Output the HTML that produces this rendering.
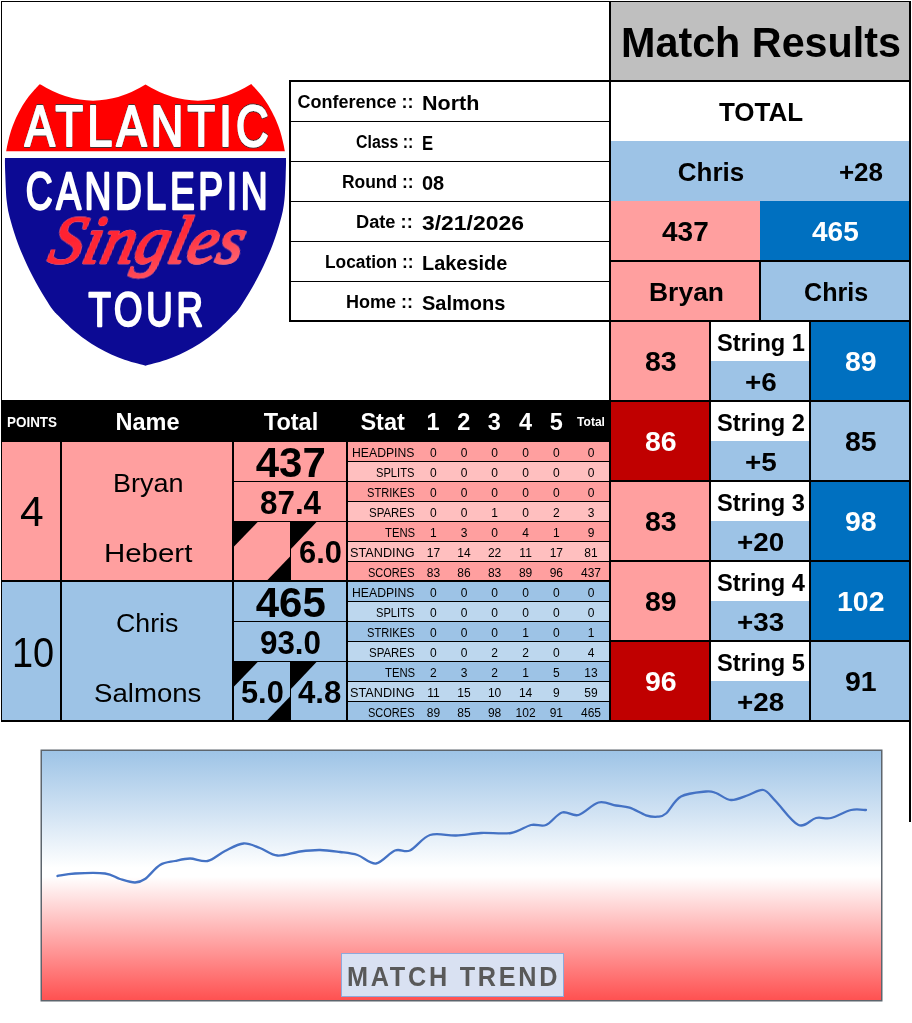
<!DOCTYPE html>
<html lang="en"><head><meta charset="utf-8"><title>Match Results</title>
<style>
html,body{margin:0;padding:0;background:#fff}
body{width:912px;height:1023px;position:relative;overflow:hidden;font-family:"Liberation Sans",sans-serif}
.b{position:absolute;display:block}
.t{position:absolute;display:block;white-space:nowrap;line-height:1;transform-origin:0 0;margin:0;padding:0}
</style></head><body>
<div class="b" style="left:1px;top:1px;width:910px;height:1px;background:#000"></div><div class="b" style="left:1px;top:1px;width:1px;height:721px;background:#000"></div><div class="b" style="left:909px;top:1px;width:2px;height:821px;background:#000"></div><div class="b" style="left:611px;top:2px;width:298px;height:78px;background:#bfbfbf"></div><div class="b" style="left:611px;top:82px;width:298px;height:59px;background:#fff"></div><div class="b" style="left:611px;top:141px;width:298px;height:60px;background:#9dc3e6"></div><div class="b" style="left:611px;top:201px;width:149px;height:60px;background:#ff9f9f"></div><div class="b" style="left:760px;top:201px;width:149px;height:60px;background:#0070c0"></div><div class="b" style="left:611px;top:261px;width:149px;height:60px;background:#ff9f9f"></div><div class="b" style="left:760px;top:261px;width:149px;height:60px;background:#9dc3e6"></div><div class="b" style="left:611px;top:321px;width:99px;height:80px;background:#ff9f9f"></div><div class="b" style="left:711px;top:321px;width:99px;height:40px;background:#fff"></div><div class="b" style="left:711px;top:361px;width:99px;height:40px;background:#9dc3e6"></div><div class="b" style="left:811px;top:321px;width:98px;height:80px;background:#0070c0"></div><div class="b" style="left:611px;top:401px;width:99px;height:80px;background:#c00000"></div><div class="b" style="left:711px;top:401px;width:99px;height:40px;background:#fff"></div><div class="b" style="left:711px;top:441px;width:99px;height:40px;background:#9dc3e6"></div><div class="b" style="left:811px;top:401px;width:98px;height:80px;background:#9dc3e6"></div><div class="b" style="left:611px;top:481px;width:99px;height:80px;background:#ff9f9f"></div><div class="b" style="left:711px;top:481px;width:99px;height:40px;background:#fff"></div><div class="b" style="left:711px;top:521px;width:99px;height:40px;background:#9dc3e6"></div><div class="b" style="left:811px;top:481px;width:98px;height:80px;background:#0070c0"></div><div class="b" style="left:611px;top:561px;width:99px;height:80px;background:#ff9f9f"></div><div class="b" style="left:711px;top:561px;width:99px;height:40px;background:#fff"></div><div class="b" style="left:711px;top:601px;width:99px;height:40px;background:#9dc3e6"></div><div class="b" style="left:811px;top:561px;width:98px;height:80px;background:#0070c0"></div><div class="b" style="left:611px;top:641px;width:99px;height:80px;background:#c00000"></div><div class="b" style="left:711px;top:641px;width:99px;height:40px;background:#fff"></div><div class="b" style="left:711px;top:681px;width:99px;height:40px;background:#9dc3e6"></div><div class="b" style="left:811px;top:641px;width:98px;height:80px;background:#9dc3e6"></div><div class="b" style="left:609px;top:1px;width:2px;height:721px;background:#000"></div><div class="b" style="left:609px;top:80px;width:302px;height:2px;background:#000"></div><div class="b" style="left:609px;top:260px;width:302px;height:2px;background:#000"></div><div class="b" style="left:609px;top:320px;width:302px;height:2px;background:#000"></div><div class="b" style="left:759px;top:261px;width:2px;height:60px;background:#000"></div><div class="b" style="left:609px;top:400px;width:302px;height:2px;background:#000"></div><div class="b" style="left:609px;top:480px;width:302px;height:2px;background:#000"></div><div class="b" style="left:609px;top:560px;width:302px;height:2px;background:#000"></div><div class="b" style="left:609px;top:640px;width:302px;height:2px;background:#000"></div><div class="b" style="left:609px;top:720px;width:302px;height:2px;background:#000"></div><div class="b" style="left:709px;top:321px;width:2px;height:401px;background:#000"></div><div class="b" style="left:809px;top:321px;width:2px;height:401px;background:#000"></div><div class="b" style="left:289px;top:80px;width:322px;height:2px;background:#000"></div><div class="b" style="left:289px;top:320px;width:322px;height:2px;background:#000"></div><div class="b" style="left:289px;top:80px;width:2px;height:242px;background:#000"></div><div class="b" style="left:289px;top:121px;width:321px;height:1px;background:#000"></div><div class="b" style="left:289px;top:161px;width:321px;height:1px;background:#000"></div><div class="b" style="left:289px;top:201px;width:321px;height:1px;background:#000"></div><div class="b" style="left:289px;top:241px;width:321px;height:1px;background:#000"></div><div class="b" style="left:289px;top:281px;width:321px;height:1px;background:#000"></div><div class="b" style="left:2px;top:400px;width:609px;height:42px;background:#000"></div><div class="b" style="left:2px;top:442px;width:346px;height:139px;background:#ff9f9f"></div><div class="b" style="left:2px;top:581px;width:346px;height:140px;background:#9dc3e6"></div><div class="b" style="left:348px;top:442px;width:261px;height:20px;background:#ff9f9f"></div><div class="b" style="left:348px;top:462px;width:261px;height:20px;background:#ffbfbf"></div><div class="b" style="left:348px;top:482px;width:261px;height:20px;background:#ff9f9f"></div><div class="b" style="left:348px;top:502px;width:261px;height:20px;background:#ffbfbf"></div><div class="b" style="left:348px;top:522px;width:261px;height:20px;background:#ff9f9f"></div><div class="b" style="left:348px;top:542px;width:261px;height:20px;background:#ffbfbf"></div><div class="b" style="left:348px;top:562px;width:261px;height:20px;background:#ff9f9f"></div><div class="b" style="left:348px;top:582px;width:261px;height:20px;background:#9dc3e6"></div><div class="b" style="left:348px;top:602px;width:261px;height:20px;background:#bdd7ee"></div><div class="b" style="left:348px;top:622px;width:261px;height:20px;background:#9dc3e6"></div><div class="b" style="left:348px;top:642px;width:261px;height:20px;background:#bdd7ee"></div><div class="b" style="left:348px;top:662px;width:261px;height:20px;background:#9dc3e6"></div><div class="b" style="left:348px;top:682px;width:261px;height:20px;background:#bdd7ee"></div><div class="b" style="left:348px;top:702px;width:261px;height:20px;background:#9dc3e6"></div><div class="b" style="left:60px;top:442px;width:2px;height:280px;background:#000"></div><div class="b" style="left:232px;top:442px;width:2px;height:280px;background:#000"></div><div class="b" style="left:346px;top:442px;width:2px;height:280px;background:#000"></div><div class="b" style="left:1px;top:580px;width:610px;height:2px;background:#000"></div><div class="b" style="left:1px;top:720px;width:910px;height:2px;background:#000"></div><div class="b" style="left:348px;top:461px;width:261px;height:1px;background:#000"></div><div class="b" style="left:348px;top:481px;width:261px;height:1px;background:#000"></div><div class="b" style="left:348px;top:501px;width:261px;height:1px;background:#000"></div><div class="b" style="left:348px;top:521px;width:261px;height:1px;background:#000"></div><div class="b" style="left:348px;top:541px;width:261px;height:1px;background:#000"></div><div class="b" style="left:348px;top:561px;width:261px;height:1px;background:#000"></div><div class="b" style="left:234px;top:481px;width:114px;height:1px;background:#000"></div><div class="b" style="left:234px;top:521px;width:114px;height:1px;background:#000"></div><div class="b" style="left:290px;top:522px;width:1px;height:59px;background:#000"></div><div class="b" style="left:348px;top:601px;width:261px;height:1px;background:#000"></div><div class="b" style="left:348px;top:621px;width:261px;height:1px;background:#000"></div><div class="b" style="left:348px;top:641px;width:261px;height:1px;background:#000"></div><div class="b" style="left:348px;top:661px;width:261px;height:1px;background:#000"></div><div class="b" style="left:348px;top:681px;width:261px;height:1px;background:#000"></div><div class="b" style="left:348px;top:701px;width:261px;height:1px;background:#000"></div><div class="b" style="left:234px;top:621px;width:114px;height:1px;background:#000"></div><div class="b" style="left:234px;top:661px;width:114px;height:1px;background:#000"></div><div class="b" style="left:290px;top:662px;width:1px;height:59px;background:#000"></div><svg class="b" style="left:0;top:0" width="912" height="1023" viewBox="0 0 912 1023"><g fill="#000"><polygon points="234,521.5 258.2,521.5 234,546.5"/><polygon points="290,521.5 317,521.5 290,550"/><polygon points="266.5,581 291,581 291,555.5"/><polygon points="234,661.5 258.2,661.5 234,686.5"/><polygon points="290,661.5 317,661.5 290,690"/><polygon points="266.5,721 291,721 291,695.5"/></g></svg><span class="t " style="left:621.00px;top:20.60px;font-size:43px;color:#000;font-weight:700;transform:scaleX(0.9606);">Match Results</span><span class="t " style="left:718.88px;top:99.39px;font-size:26px;color:#000;font-weight:700;">TOTAL</span><span class="t " style="left:677.77px;top:158.59px;font-size:26px;color:#000;font-weight:700;">Chris</span><span class="t " style="left:838.95px;top:158.59px;font-size:26px;color:#000;font-weight:700;">+28</span><span class="t " style="left:662.00px;top:217.91px;font-size:27.4px;color:#000;font-weight:700;transform:scaleX(1.0218);">437</span><span class="t " style="left:812.30px;top:217.91px;font-size:27.4px;color:#fff;font-weight:700;transform:scaleX(1.0218);">465</span><span class="t " style="left:648.50px;top:278.99px;font-size:26px;color:#000;font-weight:700;transform:scaleX(1.0179);">Bryan</span><span class="t " style="left:804.00px;top:278.99px;font-size:26px;color:#000;font-weight:700;transform:scaleX(0.9661);">Chris</span><span class="t " style="left:644.86px;top:348.01px;font-size:27.4px;color:#000;font-weight:700;transform:scaleX(1.0400);">83</span><span class="t " style="left:844.86px;top:348.01px;font-size:27.4px;color:#fff;font-weight:700;transform:scaleX(1.0400);">89</span><span class="t " style="left:716.79px;top:330.68px;font-size:24px;color:#000;font-weight:700;transform:scaleX(0.9850);">String 1</span><span class="t " style="left:744.84px;top:368.79px;font-size:26px;color:#000;font-weight:700;transform:scaleX(1.0700);">+6</span><span class="t " style="left:644.86px;top:428.01px;font-size:27.4px;color:#fff;font-weight:700;transform:scaleX(1.0400);">86</span><span class="t " style="left:844.86px;top:428.01px;font-size:27.4px;color:#000;font-weight:700;transform:scaleX(1.0400);">85</span><span class="t " style="left:716.79px;top:410.68px;font-size:24px;color:#000;font-weight:700;transform:scaleX(0.9850);">String 2</span><span class="t " style="left:744.84px;top:448.79px;font-size:26px;color:#000;font-weight:700;transform:scaleX(1.0700);">+5</span><span class="t " style="left:644.86px;top:508.01px;font-size:27.4px;color:#000;font-weight:700;transform:scaleX(1.0400);">83</span><span class="t " style="left:844.86px;top:508.01px;font-size:27.4px;color:#fff;font-weight:700;transform:scaleX(1.0400);">98</span><span class="t " style="left:716.79px;top:490.68px;font-size:24px;color:#000;font-weight:700;transform:scaleX(0.9850);">String 3</span><span class="t " style="left:737.11px;top:528.79px;font-size:26px;color:#000;font-weight:700;transform:scaleX(1.0700);">+20</span><span class="t " style="left:644.86px;top:588.01px;font-size:27.4px;color:#000;font-weight:700;transform:scaleX(1.0400);">89</span><span class="t " style="left:836.93px;top:588.01px;font-size:27.4px;color:#fff;font-weight:700;transform:scaleX(1.0400);">102</span><span class="t " style="left:716.79px;top:570.68px;font-size:24px;color:#000;font-weight:700;transform:scaleX(0.9850);">String 4</span><span class="t " style="left:737.11px;top:608.79px;font-size:26px;color:#000;font-weight:700;transform:scaleX(1.0700);">+33</span><span class="t " style="left:644.86px;top:668.01px;font-size:27.4px;color:#fff;font-weight:700;transform:scaleX(1.0400);">96</span><span class="t " style="left:844.86px;top:668.01px;font-size:27.4px;color:#000;font-weight:700;transform:scaleX(1.0400);">91</span><span class="t " style="left:716.79px;top:650.68px;font-size:24px;color:#000;font-weight:700;transform:scaleX(0.9850);">String 5</span><span class="t " style="left:737.11px;top:688.79px;font-size:26px;color:#000;font-weight:700;transform:scaleX(1.0700);">+28</span><span class="t " style="left:297.50px;top:92.76px;font-size:18px;color:#000;font-weight:700;">Conference ::</span><span class="t " style="left:422.20px;top:92.65px;font-size:20.5px;color:#000;font-weight:700;transform:scaleX(1.0484);">North</span><span class="t " style="left:355.70px;top:132.76px;font-size:18px;color:#000;font-weight:700;transform:scaleX(0.8829);">Class ::</span><span class="t " style="left:422.20px;top:132.65px;font-size:20.5px;color:#000;font-weight:700;transform:scaleX(0.8118);">E</span><span class="t " style="left:341.50px;top:172.76px;font-size:18px;color:#000;font-weight:700;transform:scaleX(0.9681);">Round ::</span><span class="t " style="left:422.20px;top:172.65px;font-size:20.5px;color:#000;font-weight:700;transform:scaleX(0.9739);">08</span><span class="t " style="left:356.40px;top:212.76px;font-size:18px;color:#000;font-weight:700;transform:scaleX(1.0125);">Date ::</span><span class="t " style="left:422.20px;top:212.65px;font-size:20.5px;color:#000;font-weight:700;transform:scaleX(1.1184);">3/21/2026</span><span class="t " style="left:324.70px;top:252.76px;font-size:18px;color:#000;font-weight:700;transform:scaleX(0.9611);">Location ::</span><span class="t " style="left:422.20px;top:252.65px;font-size:20.5px;color:#000;font-weight:700;transform:scaleX(0.9711);">Lakeside</span><span class="t " style="left:346.00px;top:292.76px;font-size:18px;color:#000;font-weight:700;">Home ::</span><span class="t " style="left:422.20px;top:292.65px;font-size:20.5px;color:#000;font-weight:700;transform:scaleX(0.9761);">Salmons</span><span class="t " style="left:6.68px;top:415.45px;font-size:14px;color:#fff;font-weight:700;transform:scaleX(0.9600);">POINTS</span><span class="t " style="left:115.49px;top:410.71px;font-size:23.5px;color:#fff;font-weight:700;">Name</span><span class="t " style="left:263.81px;top:410.71px;font-size:23.5px;color:#fff;font-weight:700;">Total</span><span class="t " style="left:360.40px;top:410.71px;font-size:23.5px;color:#fff;font-weight:700;">Stat</span><span class="t " style="left:426.47px;top:410.71px;font-size:23.5px;color:#fff;font-weight:700;">1</span><span class="t " style="left:457.17px;top:410.71px;font-size:23.5px;color:#fff;font-weight:700;">2</span><span class="t " style="left:487.87px;top:410.71px;font-size:23.5px;color:#fff;font-weight:700;">3</span><span class="t " style="left:519.07px;top:410.71px;font-size:23.5px;color:#fff;font-weight:700;">4</span><span class="t " style="left:549.77px;top:410.71px;font-size:23.5px;color:#fff;font-weight:700;">5</span><span class="t " style="left:577.12px;top:416.14px;font-size:12px;color:#fff;font-weight:700;">Total</span><span class="t " style="left:19.98px;top:491.42px;font-size:42.5px;color:#000;">4</span><span class="t " style="left:12.40px;top:632.25px;font-size:42px;color:#000;transform:scaleX(0.9036);">10</span><span class="t " style="left:112.70px;top:469.69px;font-size:26px;color:#000;transform:scaleX(1.0381);">Bryan</span><span class="t " style="left:103.80px;top:539.59px;font-size:26px;color:#000;transform:scaleX(1.1317);">Hebert</span><span class="t " style="left:115.70px;top:609.59px;font-size:26px;color:#000;transform:scaleX(1.0283);">Chris</span><span class="t " style="left:94.10px;top:679.59px;font-size:26px;color:#000;transform:scaleX(1.0616);">Salmons</span><span class="t " style="left:255.70px;top:441.75px;font-size:42px;color:#000;font-weight:700;">437</span><span class="t " style="left:255.70px;top:581.75px;font-size:42px;color:#000;font-weight:700;">465</span><span class="t " style="left:259.80px;top:486.70px;font-size:32.6px;color:#000;font-weight:700;transform:scaleX(0.9631);">87.4</span><span class="t " style="left:260.00px;top:626.70px;font-size:32.6px;color:#000;font-weight:700;transform:scaleX(0.9615);">93.0</span><span class="t " style="left:298.50px;top:537.02px;font-size:31.4px;color:#000;font-weight:700;transform:scaleX(0.9829);">6.0</span><span class="t " style="left:241.40px;top:677.02px;font-size:31.4px;color:#000;font-weight:700;transform:scaleX(0.9806);">5.0</span><span class="t " style="left:297.50px;top:677.02px;font-size:31.4px;color:#000;font-weight:700;transform:scaleX(0.9921);">4.8</span><span class="t " style="left:352.20px;top:446.64px;font-size:12px;color:#000;transform:scaleX(1.0188);">HEADPINS</span><span class="t " style="left:430.06px;top:446.64px;font-size:12px;color:#000;">0</span><span class="t " style="left:460.66px;top:446.64px;font-size:12px;color:#000;">0</span><span class="t " style="left:491.26px;top:446.64px;font-size:12px;color:#000;">0</span><span class="t " style="left:522.26px;top:446.64px;font-size:12px;color:#000;">0</span><span class="t " style="left:552.96px;top:446.64px;font-size:12px;color:#000;">0</span><span class="t " style="left:587.66px;top:446.64px;font-size:12px;color:#000;">0</span><span class="t " style="left:376.30px;top:466.64px;font-size:12px;color:#000;transform:scaleX(0.9286);">SPLITS</span><span class="t " style="left:430.06px;top:466.64px;font-size:12px;color:#000;">0</span><span class="t " style="left:460.66px;top:466.64px;font-size:12px;color:#000;">0</span><span class="t " style="left:491.26px;top:466.64px;font-size:12px;color:#000;">0</span><span class="t " style="left:522.26px;top:466.64px;font-size:12px;color:#000;">0</span><span class="t " style="left:552.96px;top:466.64px;font-size:12px;color:#000;">0</span><span class="t " style="left:587.66px;top:466.64px;font-size:12px;color:#000;">0</span><span class="t " style="left:367.10px;top:486.64px;font-size:12px;color:#000;transform:scaleX(0.9270);">STRIKES</span><span class="t " style="left:430.06px;top:486.64px;font-size:12px;color:#000;">0</span><span class="t " style="left:460.66px;top:486.64px;font-size:12px;color:#000;">0</span><span class="t " style="left:491.26px;top:486.64px;font-size:12px;color:#000;">0</span><span class="t " style="left:522.26px;top:486.64px;font-size:12px;color:#000;">0</span><span class="t " style="left:552.96px;top:486.64px;font-size:12px;color:#000;">0</span><span class="t " style="left:587.66px;top:486.64px;font-size:12px;color:#000;">0</span><span class="t " style="left:369.10px;top:506.64px;font-size:12px;color:#000;transform:scaleX(0.9541);">SPARES</span><span class="t " style="left:430.06px;top:506.64px;font-size:12px;color:#000;">0</span><span class="t " style="left:460.66px;top:506.64px;font-size:12px;color:#000;">0</span><span class="t " style="left:491.26px;top:506.64px;font-size:12px;color:#000;">1</span><span class="t " style="left:522.26px;top:506.64px;font-size:12px;color:#000;">0</span><span class="t " style="left:552.96px;top:506.64px;font-size:12px;color:#000;">2</span><span class="t " style="left:587.66px;top:506.64px;font-size:12px;color:#000;">3</span><span class="t " style="left:384.60px;top:526.64px;font-size:12px;color:#000;transform:scaleX(0.9405);">TENS</span><span class="t " style="left:430.06px;top:526.64px;font-size:12px;color:#000;">1</span><span class="t " style="left:460.66px;top:526.64px;font-size:12px;color:#000;">3</span><span class="t " style="left:491.26px;top:526.64px;font-size:12px;color:#000;">0</span><span class="t " style="left:522.26px;top:526.64px;font-size:12px;color:#000;">4</span><span class="t " style="left:552.96px;top:526.64px;font-size:12px;color:#000;">1</span><span class="t " style="left:587.66px;top:526.64px;font-size:12px;color:#000;">9</span><span class="t " style="left:350.00px;top:546.64px;font-size:12px;color:#000;transform:scaleX(1.0586);">STANDING</span><span class="t " style="left:426.73px;top:546.64px;font-size:12px;color:#000;">17</span><span class="t " style="left:457.33px;top:546.64px;font-size:12px;color:#000;">14</span><span class="t " style="left:487.93px;top:546.64px;font-size:12px;color:#000;">22</span><span class="t " style="left:519.37px;top:546.64px;font-size:12px;color:#000;">11</span><span class="t " style="left:549.63px;top:546.64px;font-size:12px;color:#000;">17</span><span class="t " style="left:584.33px;top:546.64px;font-size:12px;color:#000;">81</span><span class="t " style="left:368.20px;top:566.64px;font-size:12px;color:#000;transform:scaleX(0.9176);">SCORES</span><span class="t " style="left:426.73px;top:566.64px;font-size:12px;color:#000;">83</span><span class="t " style="left:457.33px;top:566.64px;font-size:12px;color:#000;">86</span><span class="t " style="left:487.93px;top:566.64px;font-size:12px;color:#000;">83</span><span class="t " style="left:518.93px;top:566.64px;font-size:12px;color:#000;">89</span><span class="t " style="left:549.63px;top:566.64px;font-size:12px;color:#000;">96</span><span class="t " style="left:580.99px;top:566.64px;font-size:12px;color:#000;">437</span><span class="t " style="left:352.20px;top:586.64px;font-size:12px;color:#000;transform:scaleX(1.0188);">HEADPINS</span><span class="t " style="left:430.06px;top:586.64px;font-size:12px;color:#000;">0</span><span class="t " style="left:460.66px;top:586.64px;font-size:12px;color:#000;">0</span><span class="t " style="left:491.26px;top:586.64px;font-size:12px;color:#000;">0</span><span class="t " style="left:522.26px;top:586.64px;font-size:12px;color:#000;">0</span><span class="t " style="left:552.96px;top:586.64px;font-size:12px;color:#000;">0</span><span class="t " style="left:587.66px;top:586.64px;font-size:12px;color:#000;">0</span><span class="t " style="left:376.30px;top:606.64px;font-size:12px;color:#000;transform:scaleX(0.9286);">SPLITS</span><span class="t " style="left:430.06px;top:606.64px;font-size:12px;color:#000;">0</span><span class="t " style="left:460.66px;top:606.64px;font-size:12px;color:#000;">0</span><span class="t " style="left:491.26px;top:606.64px;font-size:12px;color:#000;">0</span><span class="t " style="left:522.26px;top:606.64px;font-size:12px;color:#000;">0</span><span class="t " style="left:552.96px;top:606.64px;font-size:12px;color:#000;">0</span><span class="t " style="left:587.66px;top:606.64px;font-size:12px;color:#000;">0</span><span class="t " style="left:367.10px;top:626.64px;font-size:12px;color:#000;transform:scaleX(0.9270);">STRIKES</span><span class="t " style="left:430.06px;top:626.64px;font-size:12px;color:#000;">0</span><span class="t " style="left:460.66px;top:626.64px;font-size:12px;color:#000;">0</span><span class="t " style="left:491.26px;top:626.64px;font-size:12px;color:#000;">0</span><span class="t " style="left:522.26px;top:626.64px;font-size:12px;color:#000;">1</span><span class="t " style="left:552.96px;top:626.64px;font-size:12px;color:#000;">0</span><span class="t " style="left:587.66px;top:626.64px;font-size:12px;color:#000;">1</span><span class="t " style="left:369.10px;top:646.64px;font-size:12px;color:#000;transform:scaleX(0.9541);">SPARES</span><span class="t " style="left:430.06px;top:646.64px;font-size:12px;color:#000;">0</span><span class="t " style="left:460.66px;top:646.64px;font-size:12px;color:#000;">0</span><span class="t " style="left:491.26px;top:646.64px;font-size:12px;color:#000;">2</span><span class="t " style="left:522.26px;top:646.64px;font-size:12px;color:#000;">2</span><span class="t " style="left:552.96px;top:646.64px;font-size:12px;color:#000;">0</span><span class="t " style="left:587.66px;top:646.64px;font-size:12px;color:#000;">4</span><span class="t " style="left:384.60px;top:666.64px;font-size:12px;color:#000;transform:scaleX(0.9405);">TENS</span><span class="t " style="left:430.06px;top:666.64px;font-size:12px;color:#000;">2</span><span class="t " style="left:460.66px;top:666.64px;font-size:12px;color:#000;">3</span><span class="t " style="left:491.26px;top:666.64px;font-size:12px;color:#000;">2</span><span class="t " style="left:522.26px;top:666.64px;font-size:12px;color:#000;">1</span><span class="t " style="left:552.96px;top:666.64px;font-size:12px;color:#000;">5</span><span class="t " style="left:584.33px;top:666.64px;font-size:12px;color:#000;">13</span><span class="t " style="left:350.00px;top:686.64px;font-size:12px;color:#000;transform:scaleX(1.0586);">STANDING</span><span class="t " style="left:427.17px;top:686.64px;font-size:12px;color:#000;">11</span><span class="t " style="left:457.33px;top:686.64px;font-size:12px;color:#000;">15</span><span class="t " style="left:487.93px;top:686.64px;font-size:12px;color:#000;">10</span><span class="t " style="left:518.93px;top:686.64px;font-size:12px;color:#000;">14</span><span class="t " style="left:552.96px;top:686.64px;font-size:12px;color:#000;">9</span><span class="t " style="left:584.33px;top:686.64px;font-size:12px;color:#000;">59</span><span class="t " style="left:368.20px;top:706.64px;font-size:12px;color:#000;transform:scaleX(0.9176);">SCORES</span><span class="t " style="left:426.73px;top:706.64px;font-size:12px;color:#000;">89</span><span class="t " style="left:457.33px;top:706.64px;font-size:12px;color:#000;">85</span><span class="t " style="left:487.93px;top:706.64px;font-size:12px;color:#000;">98</span><span class="t " style="left:515.59px;top:706.64px;font-size:12px;color:#000;">102</span><span class="t " style="left:549.63px;top:706.64px;font-size:12px;color:#000;">91</span><span class="t " style="left:580.99px;top:706.64px;font-size:12px;color:#000;">465</span>
<svg class="b" style="left:0;top:76px" width="292" height="300" viewBox="0 76 292 300">
<defs>
<linearGradient id="sg" x1="0" y1="0" x2="1" y2="1"><stop offset="0" stop-color="#ff1a2a"/><stop offset="0.55" stop-color="#ff2c3a"/><stop offset="1" stop-color="#ff7480"/></linearGradient>
<clipPath id="topc"><rect x="0" y="70" width="292" height="81.2"/></clipPath>
<clipPath id="botc"><rect x="0" y="158" width="292" height="230"/></clipPath>
<filter id="ol" x="-5%" y="-20%" width="110%" height="140%"><feMorphology in="SourceAlpha" operator="dilate" radius="0.5" result="d"/><feFlood flood-color="#4a3030"/><feComposite in2="d" operator="in"/><feMerge><feMergeNode/><feMergeNode in="SourceGraphic"/></feMerge></filter>
<filter id="ol2" x="-5%" y="-20%" width="110%" height="140%"><feMorphology in="SourceAlpha" operator="dilate" radius="0.45" result="d"/><feFlood flood-color="#e8a0b8" flood-opacity="0.8"/><feComposite in2="d" operator="in"/><feMerge><feMergeNode/><feMergeNode in="SourceGraphic"/></feMerge></filter>
</defs>
<path d="M39.75,84 Q92.6,117 145.5,84.5 Q198.4,117 251.25,84 C252.5,85.3 256.1,89.3 258.5,92.1 C260.9,94.9 263.4,98.0 265.5,100.9 C267.6,103.8 269.1,106.5 270.8,109.7 C272.6,112.9 274.5,116.7 276.0,120.2 C277.5,123.7 278.9,127.3 280.0,130.8 C281.1,134.3 282.0,138.0 282.8,141.3 C283.6,144.6 284.2,147.7 284.7,150.6 C285.2,153.5 285.8,154.4 286.0,158.5 C286.2,162.6 285.8,169.8 285.7,175.0 C285.6,180.2 285.3,185.8 285.1,190.0 C284.9,194.2 284.8,196.5 284.4,200.0 C284.0,203.5 283.5,207.3 282.8,211.0 C282.1,214.7 281.0,218.3 280.0,222.0 C279.0,225.7 277.9,229.2 276.7,232.9 C275.5,236.6 274.3,240.2 272.9,243.9 C271.5,247.6 270.1,251.2 268.5,254.8 C266.9,258.4 265.3,262.1 263.6,265.8 C261.9,269.5 260.0,273.2 258.1,276.8 C256.2,280.4 254.2,284.1 252.1,287.7 C250.0,291.3 247.8,295.0 245.5,298.7 C243.2,302.4 240.6,306.7 238.4,309.6 C236.2,312.5 235.6,312.9 232.1,316.3 C228.6,319.8 221.9,326.5 217.6,330.3 C213.2,334.1 210.1,336.4 206.0,339.3 C201.9,342.2 197.2,345.3 192.8,347.8 C188.4,350.3 184.1,352.4 179.7,354.4 C175.3,356.4 170.9,358.2 166.5,359.7 C162.1,361.2 156.9,362.6 153.4,363.6 C149.9,364.6 146.8,365.4 145.5,365.7 C144.2,365.4 141.1,364.6 137.6,363.6 C134.1,362.6 128.9,361.2 124.5,359.7 C120.1,358.2 115.7,356.4 111.3,354.4 C106.9,352.4 102.6,350.3 98.2,347.8 C93.8,345.3 89.1,342.2 85.0,339.3 C80.9,336.4 77.8,334.1 73.4,330.3 C69.1,326.5 62.4,319.8 58.9,316.3 C55.4,312.9 54.8,312.5 52.6,309.6 C50.4,306.7 47.8,302.4 45.5,298.7 C43.2,295.0 41.0,291.3 38.9,287.7 C36.8,284.1 34.8,280.4 32.9,276.8 C31.0,273.2 29.1,269.5 27.4,265.8 C25.7,262.1 24.1,258.4 22.5,254.8 C20.9,251.2 19.5,247.6 18.1,243.9 C16.7,240.2 15.5,236.6 14.3,232.9 C13.1,229.2 12.0,225.7 11.0,222.0 C10.0,218.3 8.9,214.7 8.2,211.0 C7.5,207.3 7.0,203.5 6.6,200.0 C6.2,196.5 6.1,194.2 5.9,190.0 C5.7,185.8 5.5,180.2 5.3,175.0 C5.1,169.8 4.8,162.6 5.0,158.5 C5.2,154.4 5.8,153.5 6.3,150.6 C6.8,147.7 7.4,144.6 8.2,141.3 C9.0,138.0 9.9,134.3 11.0,130.8 C12.1,127.3 13.5,123.7 15.0,120.2 C16.5,116.7 18.4,112.9 20.2,109.7 C21.9,106.5 23.4,103.8 25.5,100.9 C27.6,98.0 30.1,94.9 32.5,92.1 C34.9,89.3 38.5,85.3 39.8,84.0 Z" fill="#ff0000" clip-path="url(#topc)"/>
<path d="M39.75,84 Q92.6,117 145.5,84.5 Q198.4,117 251.25,84 C252.5,85.3 256.1,89.3 258.5,92.1 C260.9,94.9 263.4,98.0 265.5,100.9 C267.6,103.8 269.1,106.5 270.8,109.7 C272.6,112.9 274.5,116.7 276.0,120.2 C277.5,123.7 278.9,127.3 280.0,130.8 C281.1,134.3 282.0,138.0 282.8,141.3 C283.6,144.6 284.2,147.7 284.7,150.6 C285.2,153.5 285.8,154.4 286.0,158.5 C286.2,162.6 285.8,169.8 285.7,175.0 C285.6,180.2 285.3,185.8 285.1,190.0 C284.9,194.2 284.8,196.5 284.4,200.0 C284.0,203.5 283.5,207.3 282.8,211.0 C282.1,214.7 281.0,218.3 280.0,222.0 C279.0,225.7 277.9,229.2 276.7,232.9 C275.5,236.6 274.3,240.2 272.9,243.9 C271.5,247.6 270.1,251.2 268.5,254.8 C266.9,258.4 265.3,262.1 263.6,265.8 C261.9,269.5 260.0,273.2 258.1,276.8 C256.2,280.4 254.2,284.1 252.1,287.7 C250.0,291.3 247.8,295.0 245.5,298.7 C243.2,302.4 240.6,306.7 238.4,309.6 C236.2,312.5 235.6,312.9 232.1,316.3 C228.6,319.8 221.9,326.5 217.6,330.3 C213.2,334.1 210.1,336.4 206.0,339.3 C201.9,342.2 197.2,345.3 192.8,347.8 C188.4,350.3 184.1,352.4 179.7,354.4 C175.3,356.4 170.9,358.2 166.5,359.7 C162.1,361.2 156.9,362.6 153.4,363.6 C149.9,364.6 146.8,365.4 145.5,365.7 C144.2,365.4 141.1,364.6 137.6,363.6 C134.1,362.6 128.9,361.2 124.5,359.7 C120.1,358.2 115.7,356.4 111.3,354.4 C106.9,352.4 102.6,350.3 98.2,347.8 C93.8,345.3 89.1,342.2 85.0,339.3 C80.9,336.4 77.8,334.1 73.4,330.3 C69.1,326.5 62.4,319.8 58.9,316.3 C55.4,312.9 54.8,312.5 52.6,309.6 C50.4,306.7 47.8,302.4 45.5,298.7 C43.2,295.0 41.0,291.3 38.9,287.7 C36.8,284.1 34.8,280.4 32.9,276.8 C31.0,273.2 29.1,269.5 27.4,265.8 C25.7,262.1 24.1,258.4 22.5,254.8 C20.9,251.2 19.5,247.6 18.1,243.9 C16.7,240.2 15.5,236.6 14.3,232.9 C13.1,229.2 12.0,225.7 11.0,222.0 C10.0,218.3 8.9,214.7 8.2,211.0 C7.5,207.3 7.0,203.5 6.6,200.0 C6.2,196.5 6.1,194.2 5.9,190.0 C5.7,185.8 5.5,180.2 5.3,175.0 C5.1,169.8 4.8,162.6 5.0,158.5 C5.2,154.4 5.8,153.5 6.3,150.6 C6.8,147.7 7.4,144.6 8.2,141.3 C9.0,138.0 9.9,134.3 11.0,130.8 C12.1,127.3 13.5,123.7 15.0,120.2 C16.5,116.7 18.4,112.9 20.2,109.7 C21.9,106.5 23.4,103.8 25.5,100.9 C27.6,98.0 30.1,94.9 32.5,92.1 C34.9,89.3 38.5,85.3 39.8,84.0 Z" fill="#0c0a94" clip-path="url(#botc)"/>
<g font-family="'Liberation Sans',sans-serif" fill="#fff" stroke="#fff" stroke-linejoin="round">
<text transform="translate(24.70,146.1) scale(0.7828,1)" font-size="57.6" letter-spacing="5.34" stroke-width="2.0" vector-effect="non-scaling-stroke" filter="url(#ol)">ATLANTIC</text>
<text transform="translate(25.70,209.0) scale(0.7070,1)" font-size="52.6" letter-spacing="5.13" stroke-width="2.1" vector-effect="non-scaling-stroke">CANDLEPIN</text>
<text transform="translate(88.50,326.2) scale(0.7471,1)" font-size="49.0" letter-spacing="5.11" stroke-width="2.1" vector-effect="non-scaling-stroke">TOUR</text>
</g>
<text x="46" y="263" font-family="'Liberation Serif',serif" font-weight="400" font-style="italic" font-size="68" textLength="193.5" lengthAdjust="spacingAndGlyphs" fill="url(#sg)" stroke="url(#sg)" stroke-width="2.2" filter="url(#ol2)" stroke-linejoin="round" transform="translate(65.75,0) skewX(-14)">Singles</text>
</svg>
<svg class="b" style="left:0;top:740px" width="912" height="283" viewBox="0 740 912 283">
<defs><linearGradient id="cg" x1="0" y1="0" x2="0" y2="1"><stop offset="0" stop-color="#9dc3e6"/><stop offset="0.47" stop-color="#ffffff"/><stop offset="0.505" stop-color="#ffffff"/><stop offset="1" stop-color="#ff5050"/></linearGradient></defs>
<rect x="41.25" y="750.25" width="840.5" height="250.5" fill="url(#cg)" stroke="#5d656d" stroke-width="1.5"/>
<path d="M57.5,876 C60.4,875.6 67.1,873.9 75,873.5 C82.9,873.1 97.5,872.6 105,873.5 C112.5,874.4 115.0,877.5 120,879 C125.0,880.5 130.8,882.5 135,882.5 C139.2,882.5 140.8,881.9 145,879 C149.2,876.1 155.0,868.0 160,865 C165.0,862.0 170.0,862.1 175,861 C180.0,859.9 184.6,858.5 190,858.5 C195.4,858.5 201.7,862.2 207.5,861 C213.3,859.8 219.0,853.9 225,851 C231.0,848.1 237.7,844.0 243.5,843.5 C249.3,843.0 254.3,846.0 260,848 C265.7,850.0 270.8,854.9 277.5,855.5 C284.2,856.1 292.9,852.4 300,851.5 C307.1,850.6 313.3,849.9 320,850 C326.7,850.1 333.8,851.2 340,852 C346.2,852.8 351.5,853.1 357.5,855 C363.5,856.9 369.8,864.2 376,863.5 C382.2,862.8 389.3,852.7 395,850.5 C400.7,848.3 404.2,853.1 410,850.5 C415.8,847.9 422.3,837.5 430,835 C437.7,832.5 447.5,835.8 456,835.5 C464.5,835.2 471.8,833.4 481,833 C490.2,832.6 502.7,834.3 511,833 C519.3,831.7 525.2,826.3 531,825 C536.8,823.7 540.8,827.1 546,825 C551.2,822.9 556.6,814.2 562,812.5 C567.4,810.8 572.4,816.7 578.5,815 C584.6,813.3 592.2,804.1 598.5,802.5 C604.8,800.9 610.8,804.6 616,805.5 C621.2,806.4 624.6,806.1 629.6,807.7 C634.6,809.3 641.3,813.8 646,815.3 C650.7,816.8 654.3,817.0 657.6,816.7 C660.9,816.4 662.1,816.9 666,813.5 C669.9,810.1 674.3,800.2 681,796.5 C687.7,792.8 700.2,792.1 706,791.5 C711.8,790.9 711.8,791.6 716,793 C720.2,794.4 725.6,799.7 731,800 C736.4,800.3 743.1,796.7 748.5,795 C753.9,793.3 758.9,788.9 763.5,790 C768.1,791.1 770.2,795.7 776,801.5 C781.8,807.3 791.8,822.2 798.5,825 C805.2,827.8 810.6,819.2 816,818 C821.4,816.8 825.2,819.3 831,818 C836.8,816.7 845.2,811.3 851,810 C856.8,808.7 863.5,810.0 866,810" fill="none" stroke="#4472c4" stroke-width="2.3" stroke-linecap="round" stroke-linejoin="round"/></svg>
<div class="b" style="left:341px;top:953px;width:221px;height:42px;border:1px solid #8ea9db;background:#d9e1f2"></div>
<span class="t " style="left:346.80px;top:963.14px;font-size:27.6px;color:#595959;font-weight:700;letter-spacing:2.99px;transform:scaleX(0.9146);">MATCH TREND</span>
</body></html>
